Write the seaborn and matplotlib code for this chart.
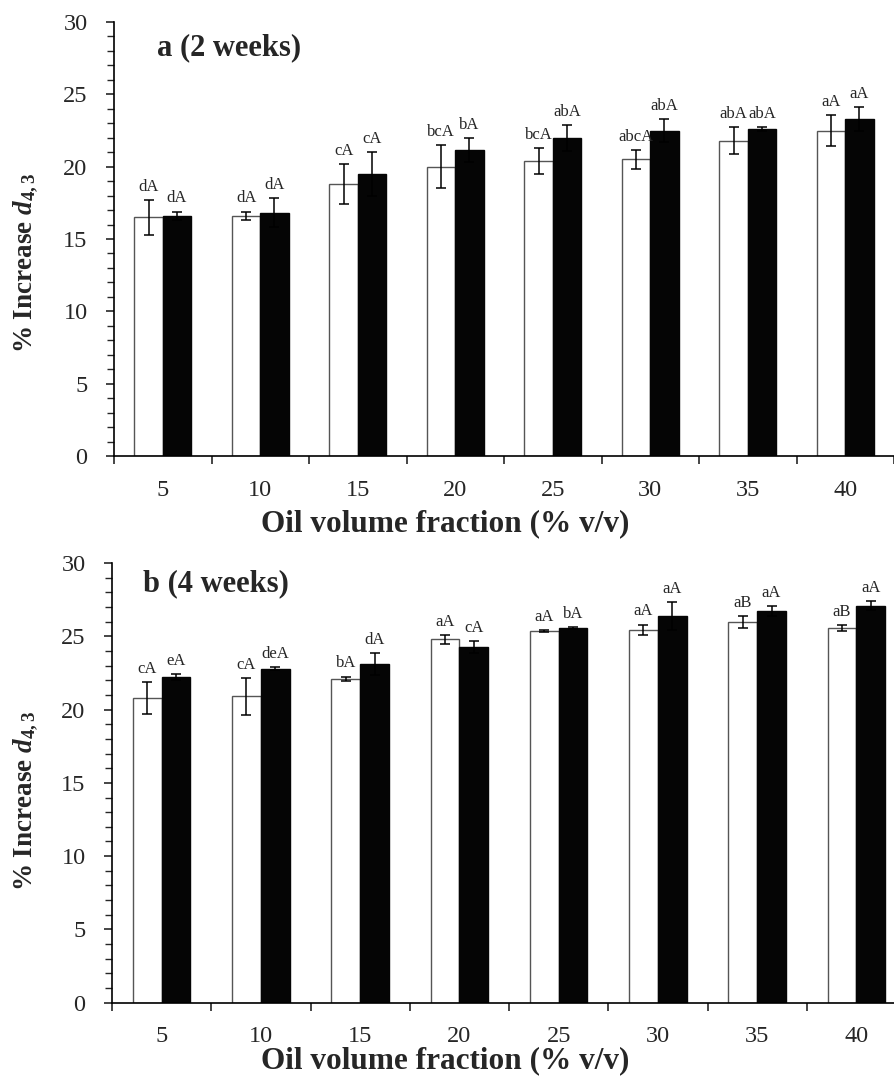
import numpy as np
import pandas as pd
import matplotlib
matplotlib.use("Agg")
import matplotlib.pyplot as plt
import seaborn as sns

# Oil volume fraction categories (% v/v)
oil_fraction = ["5", "10", "15", "20", "25", "30", "35", "40"]
series_names = ["open", "filled"]

# Panel a: 2 weeks
wk2_open = [16.5, 16.6, 18.8, 20.0, 20.4, 20.5, 21.8, 22.5]
wk2_open_err = [1.2, 0.3, 1.4, 1.5, 0.9, 0.65, 0.95, 1.1]
wk2_filled = [16.6, 16.8, 19.5, 21.15, 22.0, 22.5, 22.6, 23.3]
wk2_filled_err = [0.3, 1.0, 1.5, 0.8, 0.9, 0.8, 0.12, 0.8]
wk2_open_letters = ["dA", "dA", "cA", "bcA", "bcA", "abcA", "abA", "aA"]
wk2_filled_letters = ["dA", "dA", "cA", "bA", "abA", "abA", "abA", "aA"]

# Panel b: 4 weeks
wk4_open = [20.8, 20.9, 22.1, 24.8, 25.35, 25.45, 25.95, 25.55]
wk4_open_err = [1.1, 1.25, 0.15, 0.3, 0.05, 0.35, 0.4, 0.2]
wk4_filled = [22.2, 22.8, 23.1, 24.25, 25.55, 26.4, 26.7, 27.1]
wk4_filled_err = [0.2, 0.1, 0.75, 0.4, 0.05, 0.95, 0.35, 0.3]
wk4_open_letters = ["cA", "cA", "bA", "aA", "aA", "aA", "aB", "aB"]
wk4_filled_letters = ["eA", "deA", "dA", "cA", "bA", "aA", "aA", "aA"]

sns.set_style("ticks")
plt.rcParams["font.family"] = ["Liberation Serif", "DejaVu Serif"]
plt.rcParams["mathtext.fontset"] = "custom"
plt.rcParams["mathtext.rm"] = "Liberation Serif:bold"
plt.rcParams["mathtext.bf"] = "Liberation Serif:bold"
plt.rcParams["mathtext.it"] = "Liberation Serif:italic:bold"


def draw_panel(ax, open_vals, open_err, filled_vals, filled_err,
               open_letters, filled_letters, title, title_xy, xlabel_xy, ylabel_xy):
    df = pd.DataFrame({
        "oil": oil_fraction * 2,
        "group": [series_names[0]] * len(oil_fraction) + [series_names[1]] * len(oil_fraction),
        "value": open_vals + filled_vals,
    })
    sns.barplot(data=df, x="oil", y="value", hue="group", order=oil_fraction,
                hue_order=series_names, palette=["white", "#050505"], saturation=1,
                width=0.58, gap=0, errorbar=None, legend=False,
                edgecolor="#555555", linewidth=1.0, ax=ax)
    for bar in ax.containers[1]:
        bar.set_edgecolor("#050505")

    for cont, errs, letters in zip(ax.containers, [open_err, filled_err],
                                   [open_letters, filled_letters]):
        xs = [b.get_x() + b.get_width() / 2 for b in cont]
        hs = [b.get_height() for b in cont]
        ax.errorbar(xs, hs, yerr=errs, fmt="none", ecolor="black",
                    elinewidth=1.1, capsize=3.5, capthick=1.1, zorder=5)
        for x, h, e, lab in zip(xs, hs, errs, letters):
            ax.text(x, h + e + 0.35, lab, ha="center", va="bottom", fontsize=12)

    ax.set_ylim(0, 30)
    ax.set_yticks(range(0, 31, 5))
    ax.set_yticks(range(0, 31, 1), minor=True)
    ax.set_xlim(-0.5, len(oil_fraction) - 0.5)
    ax.set_xticks(np.arange(-0.5, len(oil_fraction), 1.0))
    ax.set_xticklabels([])
    ax.set_xticks(range(len(oil_fraction)), minor=True)
    ax.set_xticklabels(oil_fraction, minor=True)

    ax.tick_params(axis="x", which="major", length=6, width=1.2, direction="out")
    ax.tick_params(axis="x", which="minor", length=0, pad=17, labelsize=17.5)
    ax.tick_params(axis="y", which="major", length=6, width=1.2, pad=13, labelsize=17.5)
    ax.tick_params(axis="y", which="minor", length=5, width=1.0)

    for side in ["top", "right"]:
        ax.spines[side].set_visible(False)
    for side in ["left", "bottom"]:
        ax.spines[side].set_linewidth(1.2)
        ax.spines[side].set_color("black")

    ax.set_xlabel("Oil volume fraction (% v/v)", fontsize=22.5, fontweight="bold")
    ax.xaxis.set_label_coords(*xlabel_xy)
    ax.set_ylabel(r"% Increase $d_{4,3}$", fontsize=19.5, fontweight="bold")
    ax.yaxis.set_label_coords(*ylabel_xy)

    ax.text(title_xy[0], title_xy[1], title, transform=ax.transAxes,
            fontsize=22, fontweight="bold", va="top", ha="left")


fig = plt.figure(figsize=(8.94, 10.78), dpi=100)
ax_a = fig.add_axes([114 / 894, 1 - 456 / 1078, 780 / 894, 434 / 1078])
ax_b = fig.add_axes([112 / 894, 1 - 1002.7 / 1078, 794 / 894, 439.7 / 1078])

draw_panel(ax_a, wk2_open, wk2_open_err, wk2_filled, wk2_filled_err,
           wk2_open_letters, wk2_filled_letters, "a (2 weeks)",
           title_xy=(0.055, 0.975), xlabel_xy=(0.425, -0.122), ylabel_xy=(-0.095, 0.445))
draw_panel(ax_b, wk4_open, wk4_open_err, wk4_filled, wk4_filled_err,
           wk4_open_letters, wk4_filled_letters, "b (4 weeks)",
           title_xy=(0.039, 0.985), xlabel_xy=(0.42, -0.1), ylabel_xy=(-0.091, 0.46))

fig.savefig("out.png", dpi=100)
